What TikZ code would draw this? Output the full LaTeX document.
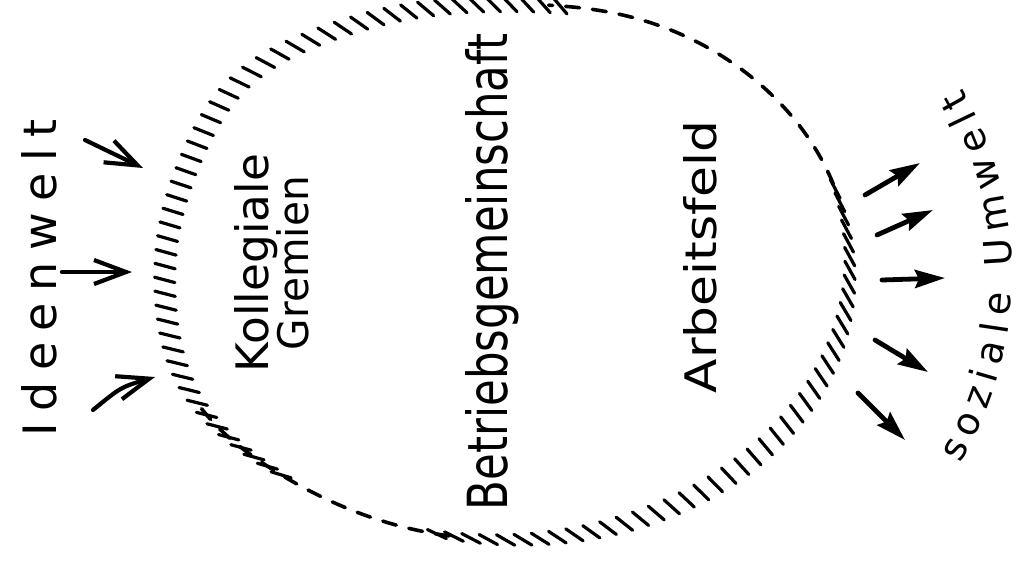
\documentclass[tikz,border=0pt]{standalone}
\usepackage{fontspec}
\setmainfont{DejaVu Sans}
\usetikzlibrary{arrows.meta, decorations.text}
\tikzset{
  hatchmark/.style={line width=1.6pt, line cap=round},
  rimdash/.style={line width=1.8pt, line cap=round, dash pattern=on 7pt off 6.5pt},
  inarrow/.style={line width=2.1pt, line cap=round, -{Straight Barb[length=16pt, width=12pt]}},
  outarrow/.style={line width=2.4pt, line cap=round, -{Stealth[length=15pt, width=9pt, inset=2pt]}},
  lbl/.style={rotate=90, anchor=base, inner sep=0pt},
  declare function={
    rimr(\z)=1+0.04*exp(-pow((\z-138)/16,2))-0.03*exp(-pow((\z-90)/20,2))+0.035*exp(-pow((\z-208)/18,2));
  },
}

\begin{document}
\begin{tikzpicture}[x=0.5pt, y=-0.5pt]
  \useasboundingbox (0,0) rectangle (1022,562);

  % rim of the circle: hatched and dashed parts
  \foreach \t in {81,83.9,...,229,-102,-99.1,...,18} {
    \pgfmathsetmacro\px{508+342*rimr(\t)*cos(\t)}
    \pgfmathsetmacro\py{268-272*rimr(\t)*sin(\t)}
    \pgfmathsetmacro\ang{38+23*cos(\t)+8*sin(\t)}
    \draw[hatchmark] (\px,\py) ++(\ang:-10.5) -- ++(\ang:21);
  }
  \draw[rimdash] plot[domain=18:83, samples=30, smooth]
    ({508+342*rimr(\x)*cos(\x)}, {268-272*rimr(\x)*sin(\x)});
  \draw[rimdash] plot[domain=210:262, samples=30, smooth]
    ({508+342*rimr(\x)*cos(\x)}, {268-272*rimr(\x)*sin(\x)});

  % labels
  \node[lbl] (ideen)   at (56,278)  {\fontsize{23pt}{23pt}\selectfont\addfontfeature{LetterSpace=25}Ideenwelt};
  \node[lbl] (kolleg)  at (268,263) {\resizebox{109pt}{17pt}{Kollegiale}};
  \node[lbl] (gremien) at (308,263) {\resizebox{87pt}{16pt}{Gremien}};
  \node[lbl] (betrieb) at (507,272) {\resizebox{238pt}{21pt}{Betriebsgemeinschaft}};
  \node[lbl] (arbeit)  at (716,257) {\resizebox{136pt}{16.5pt}{Arbeitsfeld}};
  \path[decorate, decoration={text along path, text align=fit to path,
      text={|\fontsize{19pt}{19pt}\selectfont|soziale Umwelt}}]
    (640,275) ++(30.5:372) arc[start angle=30.5, end angle=-30, radius=372];

  % ideas coming in
  \foreach \n/\ax/\ay/\bx/\by in {1/85/140/143/168, 2/62/272/132/272} {
    \coordinate (in\n-s) at (\ax,\ay);
    \coordinate (in\n-e) at (\bx,\by);
    \draw[inarrow] (in\n-s) -- (in\n-e);
  }
  \coordinate (in3-s) at (93,410);
  \coordinate (in3-e) at (155,377);
  \draw[inarrow] (in3-s) .. controls (121,387) .. (in3-e);

  % effects going out
  \foreach \n/\ax/\ay/\bx/\by in {1/865/195/920/163, 2/877/235/933/210, 3/882/280/945/278,
                                   4/875/340/928/372, 5/858/393/905/440} {
    \coordinate (out\n-s) at (\ax,\ay);
    \coordinate (out\n-e) at (\bx,\by);
    \draw[outarrow] (out\n-s) -- (out\n-e);
  }
\end{tikzpicture}
\end{document}
